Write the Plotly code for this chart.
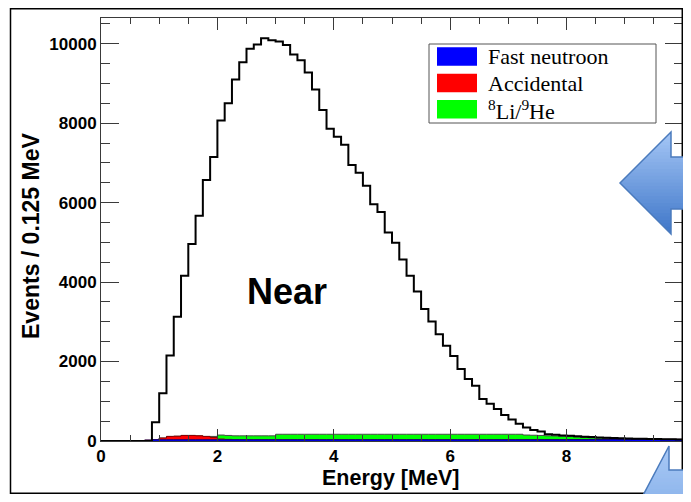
import numpy as np
import plotly.graph_objects as go

# ---------------- data ----------------
BIN_WIDTH = 0.125
bin_edges = np.round(np.arange(0, 10 + BIN_WIDTH / 2, BIN_WIDTH), 4)  # 81 edges, 80 bins

near_counts = [
    0, 0, 0, 0, 0, 0, 0, 470, 1200, 2150, 3130, 4160, 4960, 5670, 6570, 7150,
    8070, 8500, 9100, 9535, 9870, 9980, 10140, 10090, 10055, 9970, 9730, 9585, 9275, 8850, 8330, 7860,
    7655, 7455, 6945, 6750, 6425, 5960, 5765, 5250, 4990, 4570, 4160, 3760, 3320, 3010, 2690, 2400,
    2140, 1810, 1560, 1390, 1060, 940, 805, 655, 540, 435, 340, 280, 240, 170, 155, 140,
    130, 120, 110, 100, 90, 80, 75, 70, 60, 55, 55, 50, 50, 45, 45, 40,
]
fast_neutron = [
    0, 0, 0, 0, 0, 0, 20, 30, 30, 30, 30, 30, 30, 30, 30, 30,
    30, 30, 30, 30, 30, 30, 30, 30, 30, 30, 30, 30, 30, 30, 30, 30,
    30, 30, 30, 30, 30, 30, 30, 30, 30, 30, 30, 30, 30, 30, 30, 30,
    30, 30, 30, 30, 30, 30, 30, 30, 30, 30, 30, 30, 30, 30, 30, 30,
    32, 32, 32, 34, 34, 34, 36, 36, 36, 38, 38, 38, 40, 40, 40, 40,
]
accidental = [
    0, 0, 0, 0, 0, 0, 0, 0, 45, 85, 90, 110, 110, 100, 85, 60,
    20, 10, 0, 0, 0, 0, 0, 0, 0, 0, 0, 0, 0, 0, 0, 0,
    0, 0, 0, 0, 0, 0, 0, 0, 0, 0, 0, 0, 0, 0, 0, 0,
    0, 0, 0, 0, 0, 0, 0, 0, 0, 0, 0, 0, 0, 0, 0, 0,
    0, 0, 0, 0, 0, 0, 0, 0, 0, 0, 0, 0, 0, 0, 0, 0,
]
li_he = [
    0, 0, 0, 0, 0, 0, 0, 0, 0, 0, 0, 0, 0, 0, 0, 25,
    100, 100, 100, 100, 100, 100, 100, 100, 140, 140, 140, 140, 140, 140, 140, 140,
    140, 140, 140, 140, 140, 140, 140, 140, 140, 140, 140, 140, 140, 140, 140, 140,
    140, 140, 140, 140, 140, 140, 140, 140, 140, 140, 120, 115, 110, 100, 95, 90,
    80, 70, 55, 45, 40, 30, 25, 20, 0, 0, 0, 0, 0, 0, 0, 0,
]

legend_names = ["Fast neutroon", "Accidental", "<sup>8</sup>Li/<sup>9</sup>He"]
legend_colors = ["#0000ff", "#ff0000", "#00ff00"]

x_ticks = [0, 2, 4, 6, 8, 10]
y_ticks = [0, 2000, 4000, 6000, 8000, 10000]
y_max = 1.05 * max(near_counts)

# ---------------- geometry (screen pixels; page body has an 8 px margin) ----------------
OFF = 8
W, H = 691 - 2 * OFF, 502 - 2 * OFF       # keep the page free of scrollbars
PL, PR, PT, PB = 101, 683, 18, 441          # plot area in screen pixels
L, T = PL - OFF, PT - OFF
R, B = (W + OFF) - PR, (H + OFF) - PB
PW, PH = PR - PL, PB - PT


def pxx(x):
    return (x - PL) / PW


def pxy(y):
    return (PB - y) / PH


def step(vals):
    return list(bin_edges), list(vals) + [vals[-1]]


s1 = np.array(fast_neutron)
s2 = s1 + np.array(accidental)
s3 = s2 + np.array(li_he)

fig = go.Figure()
for stack, fillc, linec in [(s3, "#00ff00", "#4a4a4a"), (s2, "#ff0000", "#8b0000"), (s1, "#0000ff", "#000080")]:
    xs, ys = step(stack.tolist())
    fig.add_trace(go.Scatter(x=xs, y=ys, mode="lines", line=dict(shape="hv", color=linec, width=1),
                             fill="tozeroy", fillcolor=fillc, showlegend=False, hoverinfo="skip"))

xs, ys = step(near_counts)
fig.add_trace(go.Scatter(x=xs, y=ys, mode="lines", line=dict(shape="hv", color="black", width=2),
                         showlegend=False, name="Near"))

axis_col = "#3a3a3a"
tickfont = dict(family="Liberation Sans, Arial, sans-serif", size=17, color="black", weight="bold")
fig.update_xaxes(range=[0, 10], tickvals=x_ticks, ticktext=[str(v) for v in x_ticks],
                 showline=True, linecolor=axis_col, linewidth=1, mirror="ticks",
                 ticks="inside", ticklen=12, tickcolor=axis_col, tickwidth=1,
                 minor=dict(dtick=0.5, ticks="inside", ticklen=6, tickcolor=axis_col),
                 showgrid=False, zeroline=False, tickfont=tickfont)
fig.update_yaxes(range=[0, y_max], tickvals=y_ticks, ticktext=[str(v) for v in y_ticks],
                 showline=True, linecolor=axis_col, linewidth=1, mirror="ticks",
                 ticks="inside", ticklen=18, tickcolor=axis_col, tickwidth=1,
                 minor=dict(dtick=500, ticks="inside", ticklen=9, tickcolor=axis_col),
                 showgrid=False, zeroline=False, tickfont=tickfont)

shapes = []
annotations = []

# axis titles
annotations.append(dict(text="Energy [MeV]", xref="paper", yref="paper", x=pxx(390), y=pxy(478),
                        showarrow=False, xanchor="center", yanchor="middle",
                        font=dict(family="Liberation Sans, Arial, sans-serif", size=21.5, color="black", weight="bold")))
annotations.append(dict(text="Events / 0.125 MeV", xref="paper", yref="paper", x=pxx(31), y=pxy(236),
                        showarrow=False, textangle=-90, xanchor="center", yanchor="middle",
                        font=dict(family="Liberation Sans, Arial, sans-serif", size=23, color="black", weight="bold")))
annotations.append(dict(text="Near", x=3.2, y=3770, xref="x", yref="y", showarrow=False,
                        font=dict(family="Liberation Sans, Arial, sans-serif", size=36, color="black", weight="bold")))

# legend (manual, ROOT style)
shapes.append(dict(type="rect", xref="paper", yref="paper", x0=pxx(429), x1=pxx(656), y0=pxy(123), y1=pxy(44),
                   line=dict(color="#555555", width=1), fillcolor="white", layer="above"))
sw_tops = [47.3, 73.7, 100.0]
for name, col, top in zip(legend_names, legend_colors, sw_tops):
    shapes.append(dict(type="rect", xref="paper", yref="paper", x0=pxx(437), x1=pxx(477),
                       y0=pxy(top + 18.5), y1=pxy(top), line=dict(width=0), fillcolor=col, layer="above"))
    annotations.append(dict(text=name, xref="paper", yref="paper", x=pxx(486), y=pxy(top + 9.5),
                            xanchor="left", yanchor="middle", showarrow=False,
                            font=dict(family="Liberation Serif, Times New Roman, serif", size=22, color="black")))

# outer border of the slide image
shapes.append(dict(type="rect", xref="paper", yref="paper", x0=pxx(10.5), x1=pxx(682.3), y0=pxy(493.2), y1=pxy(8.8),
                   line=dict(color="black", width=1.5), fillcolor="rgba(0,0,0,0)", layer="above"))


# decorative arrows with vertical gradient
def clip_band(poly, ylo, yhi):
    def clip(pts, inside, inter):
        out = []
        for i in range(len(pts)):
            cur, prev = pts[i], pts[i - 1]
            if inside(cur):
                if not inside(prev):
                    out.append(inter(prev, cur))
                out.append(cur)
            elif inside(prev):
                out.append(inter(prev, cur))
        return out

    def ix(y0):
        def f(p, q):
            t = (y0 - p[1]) / (q[1] - p[1])
            return (p[0] + t * (q[0] - p[0]), y0)
        return f

    p = clip(poly, lambda pt: pt[1] >= ylo, ix(ylo))
    if not p:
        return p
    return clip(p, lambda pt: pt[1] <= yhi, ix(yhi))


def path_of(poly):
    return "M " + " L ".join(f"{pxx(x):.5f},{pxy(y):.5f}" for x, y in poly) + " Z"


def gradient_arrow(poly, c_top, c_bot, y_top, y_bot, outline, nb=30):
    ys = [p[1] for p in poly]
    ylo, yhi = min(ys), max(ys)
    h = (yhi - ylo) / nb
    for k in range(nb):
        a, b = ylo + k * h - 0.4, ylo + (k + 1) * h + 0.4
        part = clip_band(poly, a, b)
        if len(part) < 3:
            continue
        t = min(max(((a + b) / 2 - y_top) / (y_bot - y_top), 0), 1)
        col = tuple(int(round(c_top[i] + t * (c_bot[i] - c_top[i]))) for i in range(3))
        shapes.append(dict(type="path", xref="paper", yref="paper", path=path_of(part),
                           fillcolor=f"rgb{col}", line=dict(width=0), layer="above"))
    shapes.append(dict(type="path", xref="paper", yref="paper", path=path_of(poly),
                       fillcolor="rgba(0,0,0,0)", line=dict(color=outline, width=1.5), layer="above"))


big_arrow = [(620, 183), (671, 132), (671, 157), (700, 157), (700, 209), (671, 209), (671, 234)]
gradient_arrow(big_arrow, (166, 199, 246), (62, 118, 200), 132, 234, "#4b7bbd")
small_arrow = [(639, 503), (669, 446), (669, 470), (700, 470), (700, 503)]
gradient_arrow(small_arrow, (170, 202, 246), (140, 180, 235), 446, 503, "#4b7bbd")

fig.update_layout(width=W, height=H, margin=dict(l=L, r=R, t=T, b=B, autoexpand=False),
                  paper_bgcolor="white", plot_bgcolor="white", showlegend=False,
                  shapes=shapes, annotations=annotations)

fig.write_html("out.html")
